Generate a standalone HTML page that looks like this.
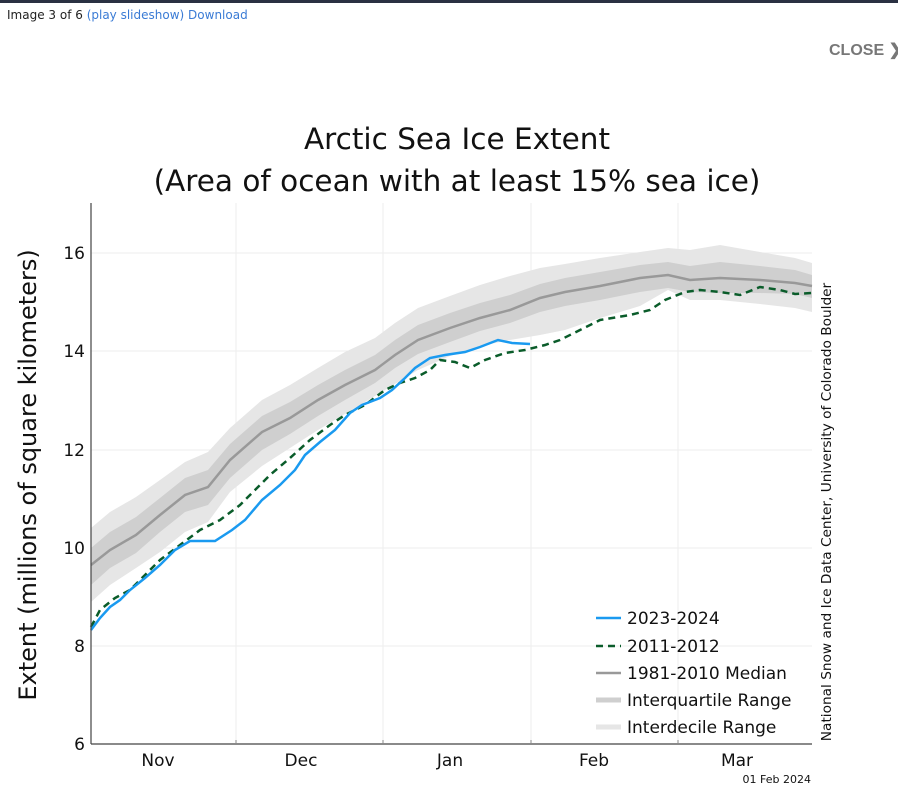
<!DOCTYPE html>
<html><head><meta charset="utf-8"><style>
body{margin:0;background:#fff;width:898px;height:796px;overflow:hidden;font-family:"DejaVu Sans","Liberation Sans",sans-serif;}
.top{position:absolute;left:0;top:0;width:898px;height:3px;background:#2a3142}
.hdr{position:absolute;left:7px;top:8px;font-size:12px;color:#222}
.hdr a{color:#3a7bd5;text-decoration:none}
.close{position:absolute;left:829px;top:40px;font-size:16px;font-weight:bold;color:#777;font-family:"Liberation Sans",sans-serif;white-space:nowrap}
</style></head><body>
<div class="top"></div>
<div class="hdr">Image 3 of 6 <a>(play slideshow)</a> <a>Download</a></div>
<div class="close">CLOSE ❯</div>
<svg width="898" height="796" style="position:absolute;left:0;top:0" font-family="DejaVu Sans, Liberation Sans, sans-serif">
<text x="457" y="149" font-size="29.5" text-anchor="middle" fill="#111">Arctic Sea Ice Extent</text>
<text x="457" y="191" font-size="29.5" text-anchor="middle" fill="#111">(Area of ocean with at least 15% sea ice)</text>
<g stroke="#eeeeee" stroke-width="1">
<line x1="91" y1="646" x2="812" y2="646"/><line x1="91" y1="548" x2="812" y2="548"/><line x1="91" y1="450" x2="812" y2="450"/><line x1="91" y1="351" x2="812" y2="351"/><line x1="91" y1="253" x2="812" y2="253"/>
<line x1="236" y1="203" x2="236" y2="744"/><line x1="383" y1="203" x2="383" y2="744"/><line x1="531" y1="203" x2="531" y2="744"/><line x1="678" y1="203" x2="678" y2="744"/>
</g>
<polygon fill="#e6e6e6" points="91,528 110,512 136,497 160,480 185,462 208,452 230,428 262,400 290,385 318,368 345,352 375,338 395,323 418,308 450,296 480,285 510,276 540,268 565,264 600,258 640,252 668,248 690,250 720,245 760,252 795,258 812,263 812,312 795,308 760,304 720,300 690,300 668,290 640,306 600,318 565,330 540,335 510,340 480,346 450,356 418,370 395,384 375,396 345,414 318,430 290,448 262,466 230,492 208,522 185,532 160,552 136,568 110,585 91,602"/>
<polygon fill="#cfcfcf" points="91,548 110,532 136,517 160,498 185,478 208,470 230,444 262,416 290,402 318,385 345,370 375,355 395,340 418,325 450,313 480,303 510,295 540,284 565,278 600,272 640,265 668,262 690,266 720,262 760,266 795,270 812,275 812,298 795,294 760,293 720,293 690,292 668,288 640,292 600,300 565,306 540,312 510,323 480,331 450,342 418,354 395,368 375,383 345,400 318,416 290,434 262,450 230,478 208,505 185,512 160,532 136,553 110,568 91,585"/>
<polyline fill="none" stroke="#999" stroke-width="2.5" points="91,565 110,550 136,535 160,515 185,495 208,487 230,460 262,432 290,418 318,400 345,385 375,370 395,355 418,340 450,328 480,318 510,310 540,298 565,292 600,286 640,278 668,275 690,280 720,278 760,280 795,283 812,286"/>
<polyline fill="none" stroke="#0a5c2a" stroke-width="2.5" stroke-dasharray="7,5" points="91,627 100,610 115,598 130,590 145,575 160,560 180,545 200,530 220,520 240,505 255,490 270,475 290,458 310,440 330,425 345,415 365,405 385,390 400,383 415,378 430,370 440,360 455,362 470,368 485,360 505,353 525,350 545,345 560,340 580,330 600,320 630,315 650,310 665,300 685,292 700,290 720,292 740,295 760,287 780,290 795,294 812,293"/>
<polyline fill="none" stroke="#1a9af0" stroke-width="2.5" points="91,630 100,618 110,607 120,600 130,590 145,578 160,565 175,550 190,541 215,541 232,530 245,520 262,500 280,485 295,470 305,455 320,442 335,430 350,413 362,405 380,398 392,390 405,378 415,368 430,358 445,355 465,352 480,347 498,340 512,343 530,344"/>
<g stroke="#444" stroke-width="1.2"><line x1="91" y1="203" x2="91" y2="744"/><line x1="91" y1="744" x2="812" y2="744"/></g>
<g stroke="#888"><line x1="236" y1="740" x2="236" y2="744"/><line x1="383" y1="740" x2="383" y2="744"/><line x1="531" y1="740" x2="531" y2="744"/><line x1="678" y1="740" x2="678" y2="744"/></g>
<g font-size="17" fill="#111" text-anchor="end">
<text x="85" y="750">6</text><text x="85" y="652">8</text><text x="85" y="554">10</text><text x="85" y="456">12</text><text x="85" y="357">14</text><text x="85" y="259">16</text></g>
<g font-size="17" fill="#111" text-anchor="middle">
<text x="158" y="766">Nov</text><text x="301" y="766">Dec</text><text x="450" y="766">Jan</text><text x="594" y="766">Feb</text><text x="737" y="766">Mar</text></g>
<text x="811" y="783" font-size="11" text-anchor="end" fill="#111">01 Feb 2024</text>
<text transform="translate(36,475) rotate(-90)" font-size="24" text-anchor="middle" fill="#111">Extent (millions of square kilometers)</text>
<text transform="translate(831,512) rotate(-90)" font-size="13.7" text-anchor="middle" fill="#111">National Snow and Ice Data Center, University of Colorado Boulder</text>
<line x1="596" y1="618" x2="621" y2="618" stroke="#1a9af0" stroke-width="2.5"/>
<line x1="596" y1="646" x2="621" y2="646" stroke="#0a5c2a" stroke-width="2.5" stroke-dasharray="7,5"/>
<line x1="596" y1="673" x2="621" y2="673" stroke="#999" stroke-width="2.5"/>
<line x1="596" y1="700" x2="621" y2="700" stroke="#cfcfcf" stroke-width="5"/>
<line x1="596" y1="727" x2="621" y2="727" stroke="#e6e6e6" stroke-width="5"/>
<g font-size="17" fill="#111">
<text x="627" y="624">2023-2024</text><text x="627" y="652">2011-2012</text><text x="627" y="679">1981-2010 Median</text><text x="627" y="706">Interquartile Range</text><text x="627" y="733">Interdecile Range</text></g>
</svg>
</body></html>
